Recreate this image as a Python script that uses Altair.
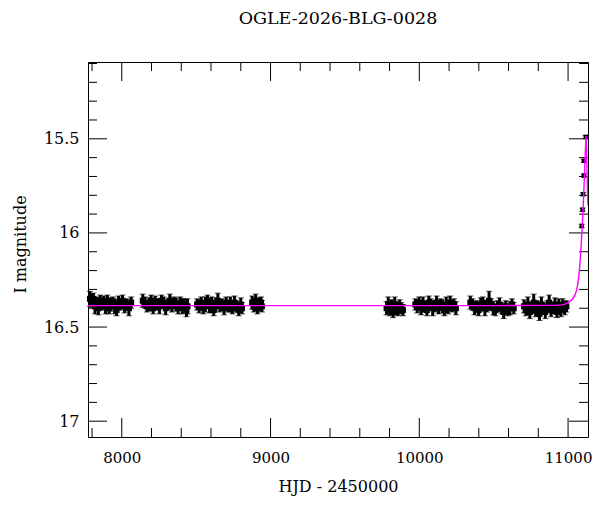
import altair as alt
import pandas as pd

FONT = "DejaVu Serif"

# ---- photometry (HJD - 2450000, I mag, error) per observing season ----
S1_T = [7786, 7797, 7809, 7820, 7832, 7843, 7855, 7867, 7879, 7891, 7903, 7915,
        7927, 7940, 7952, 7965, 7978, 7991, 8005, 8019, 8034, 8048, 8063]
S1_M = [16.35, 16.36, 16.35, 16.39, 16.37, 16.40, 16.36, 16.38, 16.37, 16.39, 16.36, 16.40,
        16.38, 16.37, 16.39, 16.41, 16.37, 16.38, 16.36, 16.39, 16.38, 16.40, 16.37]
S1_E = [0.04, 0.035, 0.03, 0.04, 0.03, 0.035, 0.03, 0.03, 0.035, 0.04, 0.03, 0.03,
        0.035, 0.03, 0.04, 0.03, 0.035, 0.03, 0.03, 0.035, 0.03, 0.04, 0.03]

S2_T = [8141, 8155, 8169, 8183, 8197, 8211, 8225, 8239, 8253, 8267, 8281, 8295,
        8309, 8323, 8337, 8351, 8365, 8379, 8393, 8407, 8421, 8435, 8442]
S2_M = [16.36, 16.37, 16.39, 16.38, 16.36, 16.40, 16.37, 16.38, 16.39, 16.36, 16.37, 16.40,
        16.38, 16.36, 16.39, 16.37, 16.38, 16.40, 16.37, 16.39, 16.38, 16.41, 16.39]
S2_E = [0.035, 0.03, 0.03, 0.035, 0.03, 0.03, 0.035, 0.03, 0.04, 0.03, 0.03, 0.035,
        0.03, 0.035, 0.03, 0.03, 0.035, 0.03, 0.03, 0.04, 0.03, 0.035, 0.04]

S3_T = [8506, 8520, 8534, 8548, 8562, 8576, 8590, 8604, 8618, 8632, 8646, 8660,
        8674, 8688, 8702, 8716, 8730, 8744, 8758, 8772, 8786, 8800, 8808]
S3_M = [16.38, 16.39, 16.37, 16.40, 16.38, 16.36, 16.39, 16.37, 16.41, 16.38, 16.36, 16.39,
        16.38, 16.40, 16.37, 16.39, 16.38, 16.40, 16.37, 16.39, 16.41, 16.38, 16.40]
S3_E = [0.03, 0.035, 0.03, 0.03, 0.04, 0.03, 0.035, 0.03, 0.03, 0.035, 0.04, 0.03,
        0.03, 0.035, 0.03, 0.03, 0.04, 0.03, 0.035, 0.03, 0.03, 0.035, 0.03]

S4_T = [8876, 8888, 8900, 8912, 8924, 8936, 8942]
S4_M = [16.37, 16.39, 16.36, 16.40, 16.38, 16.37, 16.39]
S4_E = [0.035, 0.03, 0.035, 0.03, 0.035, 0.03, 0.03]

S5_T = [9780, 9791, 9802, 9813, 9824, 9835, 9846, 9857, 9868, 9879, 9890]
S5_M = [16.40, 16.38, 16.41, 16.39, 16.42, 16.38, 16.40, 16.41, 16.39, 16.40, 16.41]
S5_E = [0.035, 0.04, 0.03, 0.035, 0.03, 0.04, 0.035, 0.03, 0.035, 0.03, 0.03]

S6_T = [9973, 9986, 9999, 10012, 10025, 10038, 10051, 10064, 10077, 10090, 10103,
        10116, 10129, 10142, 10155, 10168, 10181, 10194, 10207, 10220, 10233, 10246]
S6_M = [16.38, 16.39, 16.37, 16.40, 16.38, 16.39, 16.41, 16.37, 16.38, 16.40, 16.39,
        16.37, 16.40, 16.38, 16.39, 16.41, 16.38, 16.40, 16.37, 16.39, 16.38, 16.40]
S6_E = [0.03, 0.035, 0.03, 0.035, 0.04, 0.03, 0.03, 0.035, 0.03, 0.04, 0.03,
        0.035, 0.03, 0.03, 0.035, 0.03, 0.04, 0.03, 0.035, 0.03, 0.03, 0.035]

S7_T = [10343, 10357, 10371, 10385, 10399, 10413, 10427, 10441, 10455, 10469, 10483,
        10497, 10511, 10525, 10539, 10553, 10567, 10581, 10595, 10609, 10623, 10635]
S7_M = [16.37, 16.38, 16.40, 16.39, 16.41, 16.38, 16.37, 16.40, 16.39, 16.36, 16.38,
        16.40, 16.41, 16.39, 16.38, 16.40, 16.42, 16.39, 16.41, 16.40, 16.38, 16.40]
S7_E = [0.035, 0.03, 0.035, 0.03, 0.03, 0.035, 0.03, 0.04, 0.03, 0.05, 0.03,
        0.035, 0.03, 0.03, 0.035, 0.03, 0.035, 0.03, 0.03, 0.035, 0.03, 0.03]

S8_T = [10704, 10717, 10730, 10743, 10756, 10769, 10782, 10795, 10808, 10821, 10834, 10847,
        10860, 10873, 10886, 10899, 10912, 10925, 10938, 10951, 10964, 10977, 10989]
S8_M = [16.39, 16.41, 16.38, 16.42, 16.40, 16.37, 16.41, 16.39, 16.43, 16.38, 16.40, 16.42,
        16.39, 16.37, 16.41, 16.40, 16.38, 16.42, 16.39, 16.41, 16.38, 16.40, 16.39]
S8_E = [0.035, 0.03, 0.04, 0.035, 0.03, 0.045, 0.035, 0.03, 0.035, 0.04, 0.03, 0.035,
        0.03, 0.04, 0.035, 0.03, 0.035, 0.03, 0.04, 0.035, 0.03, 0.035, 0.03]

PEAK_T = [11092, 11097, 11101, 11106, 11106, 11119]
PEAK_M = [15.963, 15.877, 15.794, 15.695, 15.617, 15.490]
PEAK_E = [0.009, 0.009, 0.008, 0.008, 0.008, 0.008]

# ---- model light curve ----
MODEL_T = [7773, 8500, 9500, 10500, 10900, 10960, 10985, 11010, 11030, 11045, 11055,
           11063, 11070, 11076, 11082, 11087, 11092, 11096, 11100, 11104, 11108,
           11112, 11116, 11119, 11121, 11124, 11127, 11130, 11134]
MODEL_M = [16.386, 16.386, 16.386, 16.386, 16.385, 16.382, 16.377, 16.365, 16.352, 16.332,
           16.31, 16.283, 16.245, 16.20, 16.14, 16.08, 16.01, 15.95, 15.89, 15.82, 15.74,
           15.65, 15.57, 15.51, 15.485, 15.55, 15.65, 15.76, 15.85]

# ---- axis ticks ----
X_MAJOR = [8000, 9000, 10000, 11000]
X_MINOR = [7800, 8200, 8400, 8600, 8800, 9200, 9400, 9600, 9800,
           10200, 10400, 10600, 10800]
Y_MAJOR = [15.5, 16.0, 16.5, 17.0]
Y_MINOR = [15.1, 15.2, 15.3, 15.4, 15.6, 15.7, 15.8, 15.9, 16.1, 16.2, 16.3, 16.4,
           16.6, 16.7, 16.8, 16.9]

X_DOMAIN = [7773, 11134]
Y_DOMAIN = [15.092, 17.084]

W, H = 500, 375
MAJ, MIN = 19, 9

seasons = [(S1_T, S1_M, S1_E), (S2_T, S2_M, S2_E), (S3_T, S3_M, S3_E), (S4_T, S4_M, S4_E),
           (S5_T, S5_M, S5_E), (S6_T, S6_M, S6_E), (S7_T, S7_M, S7_E), (S8_T, S8_M, S8_E)]
base_obs = pd.concat([pd.DataFrame({"t": t, "m": m, "e": e}) for t, m, e in seasons],
                     ignore_index=True)
peak_obs = pd.DataFrame({"t": PEAK_T, "m": PEAK_M, "e": PEAK_E})
for df in (base_obs, peak_obs):
    df["lo"] = df["m"] - df["e"]
    df["hi"] = df["m"] + df["e"]
model = pd.DataFrame({"t": MODEL_T, "m": MODEL_M})

xs = alt.Scale(domain=X_DOMAIN, nice=False, zero=False)
ys = alt.Scale(domain=Y_DOMAIN, nice=False, zero=False, reverse=True)

xax = alt.Axis(values=X_MAJOR, tickSize=0, domain=False, grid=False, labelPadding=13,
               labelFontSize=15,
               title="HJD - 2450000", titleX=W / 2, titleY=54.5, titleBaseline="alphabetic",
               format="d")
yax = alt.Axis(values=Y_MAJOR, tickSize=0, domain=False, grid=False, labelPadding=9,
               title="I magnitude", titleX=-63, titleY=182, titleBaseline="alphabetic",
               titleAngle=-90, titleAlign="center", format="~g")

X = alt.X("t:Q", scale=xs, axis=xax)
Y = alt.Y("m:Q", scale=ys, axis=yax)


def obs_layers(df, bar_w, cap, sq):
    b = alt.Chart(df)
    bars = b.mark_rule(color="black", strokeWidth=bar_w).encode(
        x=X, y=alt.Y("lo:Q", scale=ys, axis=yax), y2="hi:Q")
    lo = b.mark_tick(color="black", orient="horizontal", size=cap, thickness=1).encode(
        x=X, y=alt.Y("lo:Q", scale=ys, axis=yax))
    hi = b.mark_tick(color="black", orient="horizontal", size=cap, thickness=1).encode(
        x=X, y=alt.Y("hi:Q", scale=ys, axis=yax))
    pts = b.mark_square(color="black", size=sq, opacity=1).encode(x=X, y=Y)
    return [bars, lo, hi, pts]


line = alt.Chart(model).mark_line(color="#ff00ff", strokeWidth=1.4, clip=True).encode(
    x=X, y=Y)


def xticks(vals, length):
    d = alt.Chart(pd.DataFrame({"t": vals}))
    bot = d.mark_rule(color="black", strokeWidth=1).encode(
        x=X, y=alt.value(H), y2=alt.value(H - length))
    top = d.mark_rule(color="black", strokeWidth=1).encode(
        x=X, y=alt.value(0), y2=alt.value(length))
    return [bot, top]


def yticks(vals, length):
    d = alt.Chart(pd.DataFrame({"m": vals}))
    left = d.mark_rule(color="black", strokeWidth=1).encode(
        y=Y, x=alt.value(0), x2=alt.value(length))
    right = d.mark_rule(color="black", strokeWidth=1).encode(
        y=Y, x=alt.value(W), x2=alt.value(W - length))
    return [left, right]


layers = (xticks(X_MAJOR, MAJ) + xticks(X_MINOR, MIN) + yticks(Y_MAJOR, MAJ)
          + yticks(Y_MINOR, MIN)
          + obs_layers(base_obs, 3, 6, 36)
          + obs_layers(peak_obs, 1.5, 6, 20)
          + [line])

chart = alt.layer(*layers).properties(
    width=W, height=H,
    title=alt.TitleParams("OGLE-2026-BLG-0028", font=FONT, fontSize=17.5,
                          fontWeight="normal", color="black", offset=20,
                          baseline="alphabetic", anchor="middle"),
    autosize=alt.AutoSizeParams(type="none"),
    padding={"left": 80, "top": 54, "right": 4, "bottom": 60},
).configure_view(stroke="black", strokeWidth=1).configure_axis(
    labelFont=FONT, labelFontSize=16, labelColor="black",
    titleFont=FONT, titleFontSize=16, titleColor="black", titleFontWeight="normal",
)

chart.save("out.html", embed_options={"renderer": "svg", "actions": False})
